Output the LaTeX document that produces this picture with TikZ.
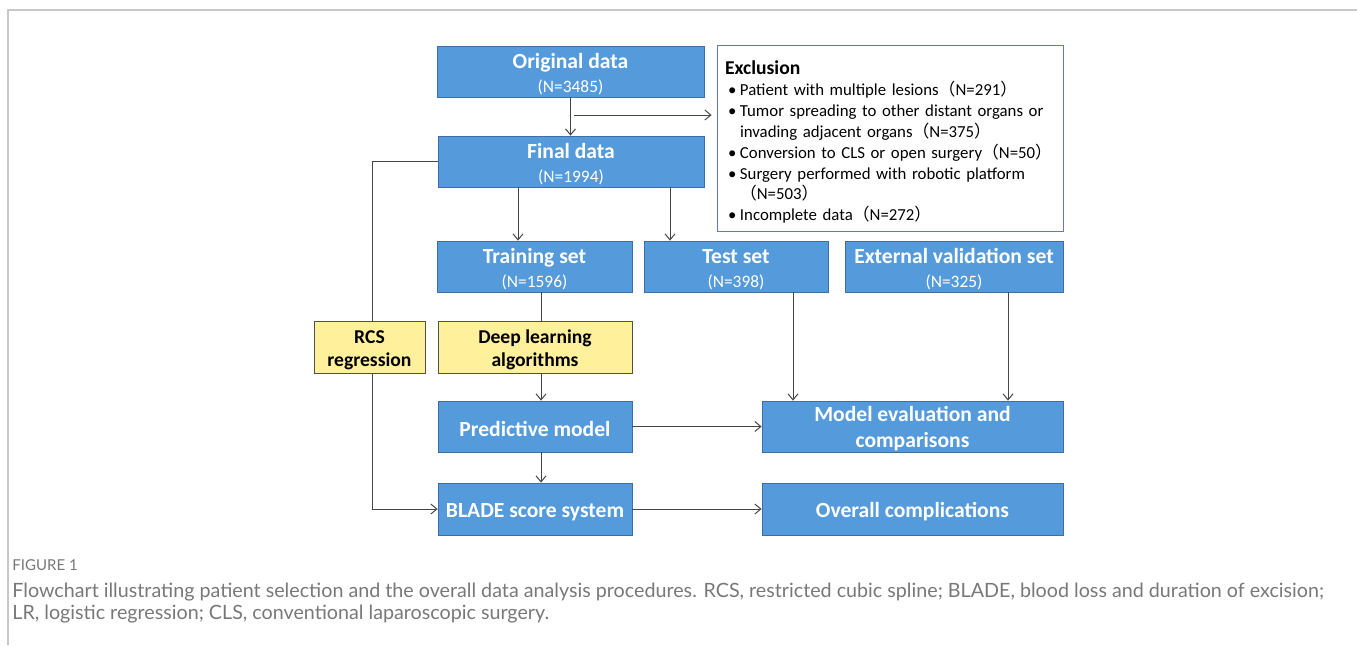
\documentclass[tikz,border=0pt]{standalone}
\usepackage{fontspec}
\setmainfont{Carlito}
\newfontfamily\cjk{Noto Sans CJK SC}
\newfontfamily\capfont{Lato}
\usetikzlibrary{arrows.meta}
\definecolor{boxblue}{RGB}{85,155,219}
\definecolor{boxedge}{RGB}{62,110,165}
\definecolor{boxyellow}{RGB}{255,241,156}
\definecolor{yellowedge}{RGB}{80,80,80}
\definecolor{exedge}{RGB}{100,125,175}
\definecolor{linegray}{RGB}{70,70,70}
\definecolor{framegray}{RGB}{200,200,200}
\definecolor{capgray}{RGB}{120,120,120}
\newcommand{\fw}[1]{{\cjk （}#1{\cjk ）}}
\newcommand{\bul}{\makebox[7.5pt][l]{\hspace*{1.5pt}\textbullet}}
\newcommand{\subn}[1]{{\mdseries\fontsize{8.7}{9}\selectfont (#1)}}
\newcommand{\tp}{\rule{0pt}{10pt}}
\begin{document}
\begin{tikzpicture}[x=0.5pt,y=-0.5pt,
    bluebox/.style={draw=boxedge,fill=boxblue,text=white,align=center,inner sep=0pt,minimum height=25.5pt,font=\bfseries\fontsize{10.8}{12}\selectfont},
    yellowbox/.style={draw=yellowedge,fill=boxyellow,align=center,inner sep=0pt,minimum height=26pt,font=\bfseries\fontsize{9.8}{11.5}\selectfont},
    exbox/.style={draw=exedge,fill=white,align=left,inner xsep=4pt,inner ysep=0pt,text width=165pt,minimum height=93pt,font=\fontsize{8.4}{10.45}\selectfont},
    arr/.style={draw=linegray,line width=0.5pt,-{Straight Barb[length=3pt,width=5pt]}},
    link/.style={draw=linegray,line width=0.5pt}]
      \useasboundingbox (0,0) rectangle (1357,645);
      \draw[framegray,line width=0.6pt] (1357,10) -- (8,10) -- (8,645);
      \node[bluebox,minimum width=133.5pt] (orig) at (570.5,71.5) {\tp Original data\\\subn{N=3485}};
      \node[bluebox,minimum width=133pt] (final) at (571,161.5) {\tp Final data\\\subn{N=1994}};
      \node[exbox] (excl) at (890,138) {\rule{0pt}{11pt}{\bfseries\fontsize{9.8}{10.45}\selectfont Exclusion}\\
        \bul Patient with multiple lesions\fw{N=291}\\
        \bul Tumor spreading to other distant organs or\\
        \hspace*{7.5pt}invading adjacent organs\fw{N=375}\\
        \bul Conversion to CLS or open surgery\fw{N=50}\\
        \bul Surgery performed with robotic platform\\
        \hspace*{7.5pt}\fw{N=503}\\
        \bul Incomplete data\fw{N=272}};
      \node[bluebox,minimum width=97.5pt] (train) at (534.5,266.5) {\tp Training set\\\subn{N=1596}};
      \node[bluebox,minimum width=92pt] (test) at (736,266.5) {\tp Test set\\\subn{N=398}};
      \node[bluebox,minimum width=109pt] (ext) at (954,266.5) {\tp External validation set\\\subn{N=325}};
      \node[yellowbox,minimum width=55.5pt] (rcs) at (369.5,347) {\tp RCS\\regression};
      \node[yellowbox,minimum width=97pt] (deep) at (535,347) {\tp Deep learning\\algorithms};
      \node[bluebox,minimum width=97pt] (pred) at (535,426.5) {\tp Predictive model};
      \node[bluebox,minimum width=150.5pt,font=\bfseries\fontsize{10.8}{13}\selectfont] (eval) at (912.5,426.5) {\tp Model evaluation and\\comparisons};
      \node[bluebox,minimum width=97pt,minimum height=26pt] (blade) at (535,509) {\tp BLADE score system};
      \node[bluebox,minimum width=150.5pt,minimum height=26pt] (outc) at (912.5,509) {\tp Overall complications};
      \coordinate (xa) at (574,115); \coordinate (xb) at (518,0); \coordinate (xc) at (670,0);
      \coordinate (xd) at (372,0); \coordinate (xe) at (541,0); \coordinate (xf) at (793,0);
      \coordinate (xg) at (1008,0);
      \draw[arr] (orig.south) -- (orig.south |- final.north);
      \draw[arr,shorten >=2.5pt] (xa) -- (excl.west |- xa);
      \draw[arr] (final.south -| xb) -- (train.north -| xb);
      \draw[arr] (final.south -| xc) -- (test.north -| xc);
      \draw[link] (final.west) -| (rcs.north -| xd);
      \draw[arr] (rcs.south -| xd) |- (blade.west);
      \draw[link] (train.south -| xe) -- (deep.north -| xe);
      \draw[arr] (deep.south -| xe) -- (pred.north -| xe);
      \draw[arr] (pred.south -| xe) -- (blade.north -| xe);
      \draw[arr] (pred) -- (eval);
      \draw[arr] (test.south -| xf) -- (eval.north -| xf);
      \draw[arr] (ext.south -| xg) -- (eval.north -| xg);
      \draw[arr] (blade) -- (outc);
      \node[anchor=west,inner sep=0pt,text=capgray,font=\capfont\fontsize{7.5}{8}\selectfont] (fig) at (12,565) {FIGURE 1};
      \node[anchor=north west,inner sep=0pt,align=left,text=capgray,font=\capfont\fontsize{9.85}{11}\selectfont] (cap) at (12,583) {Flowchart illustrating patient selection and the overall data analysis procedures. RCS, restricted cubic spline; BLADE, blood loss and duration of excision;\\LR, logistic regression; CLS, conventional laparoscopic surgery.};
    \end{tikzpicture}
\end{document}
